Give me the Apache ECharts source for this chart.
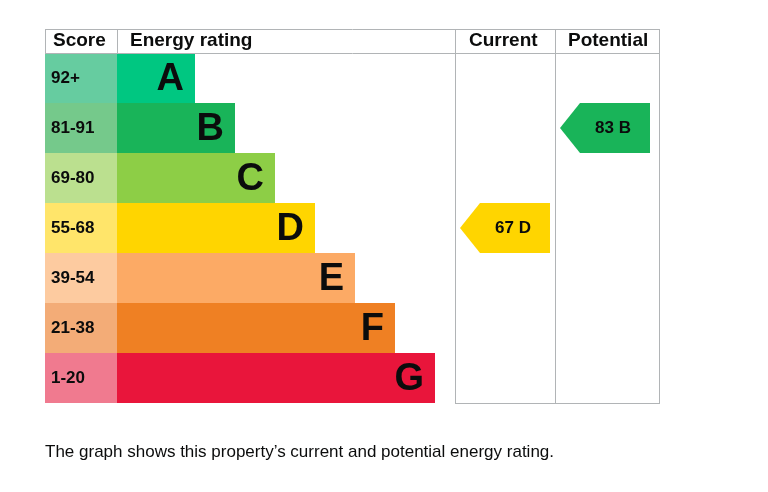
<!DOCTYPE html>
<html>
<head>
<meta charset="utf-8">
<script src="https://cdn.jsdelivr.net/npm/echarts@6/dist/echarts.min.js"></script>
<style>html,body{margin:0;padding:0;background:#fff}#chart{width:768px;height:492px}</style>
</head>
<body>
<div id="chart"></div>
<script>
// bands, top to bottom
var bands = ['A', 'B', 'C', 'D', 'E', 'F', 'G'];
var scores = ['92+', '81-91', '69-80', '55-68', '39-54', '21-38', '1-20'];
var barLength = [78, 118, 158, 198, 238, 278, 318];
var bandColors = ['#00c781', '#19b459', '#8dce46', '#ffd500', '#fcaa65', '#ef8023', '#e9153b'];
var scoreColors = ['#66cca0', '#75c98b', '#bbe08f', '#ffe56a', '#fdcba0', '#f3ac77', '#f07a8f'];
var current = {score: 67, band: 'D'};
var potential = {score: 83, band: 'B'};

var chart = echarts.init(document.getElementById('chart'));
var font = 'Liberation Sans, Arial, sans-serif';
var border = '#b1b4b6';
var arrowPath = 'path://M0,25 L20,0 L90,0 L90,50 L20,50 Z';

function line(x1, y1, x2, y2) {
    return {type: 'line', shape: {x1: x1, y1: y1, x2: x2, y2: y2}, style: {stroke: border, lineWidth: 1}, z: 10};
}
function head(x, txt) {
    return {type: 'text', x: x, y: 41, style: {text: txt, font: 'bold 19px ' + font, fill: '#0b0c0c', textVerticalAlign: 'middle'}, z: 10};
}
function yAx(i) {
    return {type: 'category', gridIndex: i, data: bands, inverse: true, show: false};
}
function xAx(i, max) {
    return {type: 'value', gridIndex: i, min: 0, max: max, show: false};
}

option = {
    animation: false,
    grid: [
        {left: 45, top: 53, width: 72, height: 350},
        {left: 117, top: 53, width: 338, height: 350},
        {left: 455, top: 53, width: 100, height: 350},
        {left: 555, top: 53, width: 105, height: 350}
    ],
    xAxis: [xAx(0, 1), xAx(1, 338), xAx(2, 100), xAx(3, 105)],
    yAxis: [yAx(0), yAx(1), yAx(2), yAx(3)],
    series: [
        {
            type: 'bar', xAxisIndex: 0, yAxisIndex: 0, barCategoryGap: 0,
            data: scores.map(function (s, i) {
                return {value: 1, name: s, itemStyle: {color: scoreColors[i]}};
            }),
            label: {show: true, position: 'insideLeft', offset: [1, 0], formatter: function (p) { return scores[p.dataIndex]; },
                fontFamily: font, fontWeight: 'bold', fontSize: 17, color: '#0b0c0c'}
        },
        {
            type: 'bar', xAxisIndex: 1, yAxisIndex: 1, barCategoryGap: 0,
            data: barLength.map(function (v, i) {
                return {value: v, itemStyle: {color: bandColors[i]}};
            }),
            label: {show: true, position: 'insideRight', offset: [-6, 2], formatter: function (p) { return bands[p.dataIndex]; },
                fontFamily: font, fontWeight: 'bold', fontSize: 38, color: '#0b0c0c'}
        },
        {
            type: 'scatter', xAxisIndex: 2, yAxisIndex: 2, symbol: arrowPath, symbolSize: [90, 50],
            itemStyle: {color: bandColors[bands.indexOf(current.band)], opacity: 1},
            data: [[50, current.band]],
            label: {show: true, position: 'inside', offset: [8, 0], formatter: current.score + ' ' + current.band,
                fontFamily: font, fontWeight: 'bold', fontSize: 17, color: '#0b0c0c'}
        },
        {
            type: 'scatter', xAxisIndex: 3, yAxisIndex: 3, symbol: arrowPath, symbolSize: [90, 50],
            itemStyle: {color: bandColors[bands.indexOf(potential.band)], opacity: 1},
            data: [[50, potential.band]],
            label: {show: true, position: 'inside', offset: [8, 0], formatter: potential.score + ' ' + potential.band,
                fontFamily: font, fontWeight: 'bold', fontSize: 17, color: '#0b0c0c'}
        }
    ],
    graphic: [
        line(45, 29.5, 660, 29.5),
        line(45, 53.5, 660, 53.5),
        line(45.5, 29, 45.5, 53),
        line(117.5, 29, 117.5, 53),
        line(455.5, 29, 455.5, 403),
        line(555.5, 29, 555.5, 403),
        line(659.5, 29, 659.5, 403),
        line(455, 403.5, 660, 403.5),
        head(53, 'Score'),
        head(130, 'Energy rating'),
        head(469, 'Current'),
        head(568, 'Potential'),
        {type: 'text', x: 45, y: 452, style: {text: 'The graph shows this property\u2019s current and potential energy rating.',
            font: '17px ' + font, fill: '#0b0c0c', textVerticalAlign: 'middle'}}
    ]
};
chart.setOption(option);
</script>
</body>
</html>
